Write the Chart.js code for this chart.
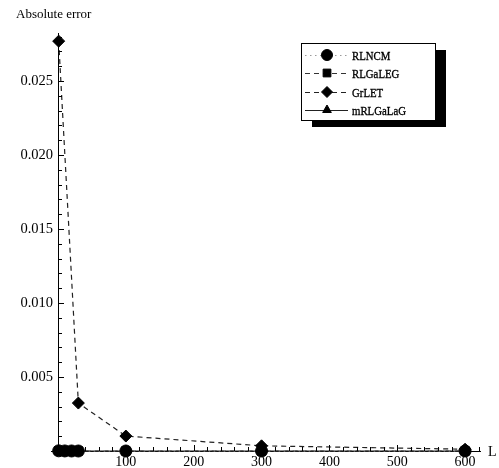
<!DOCTYPE html>
<html>
<head>
<meta charset="utf-8">
<script src="https://cdn.jsdelivr.net/npm/chart.js@4"></script>
<style>
  html, body { margin: 0; padding: 0; background: #fff; }
</style>
</head>
<body>
<canvas id="c" width="499" height="468"></canvas>
<script>
// Truncation parameter L and absolute error of each method
const L        = [1, 10, 20, 30, 100, 300, 600];
const rlncm    = [0.000012, 0.000004, 0.0000015, 0.0000009, 0.0000002, 0.00000005, 0.00000001];
const rlgaleg  = [0.000015, 0.000005, 0.000002, 0.0000012, 0.0000003, 0.00000008, 0.00000002];
const mrlgalag = [0.000010, 0.000003, 0.0000012, 0.0000008, 0.0000002, 0.00000006, 0.00000001];
const L_GrLET  = [1, 30, 100, 300, 600];
const grlet    = [0.0277, 0.00324, 0.00101, 0.00035, 0.00012];

const xTicks = [100, 200, 300, 400, 500, 600];
const yTicks = [0.005, 0.010, 0.015, 0.020, 0.025];

const SERIF = '"Liberation Serif", "DejaVu Serif", serif';

const pts = (xs, ys) => xs.map((x, i) => ({ x: x, y: ys[i] }));

const series = [
  { label: 'RLNCM',    data: pts(L, rlncm),       pointStyle: 'circle',   pointRadius: 6,   borderColor: '#9a9a9a', borderDash: [1.5, 3.5], borderWidth: 1 },
  { label: 'RLGaLEG',  data: pts(L, rlgaleg),     pointStyle: 'rect',     pointRadius: 6,   borderColor: '#333',    borderDash: [5, 4],     borderWidth: 1.2 },
  { label: 'GrLET',    data: pts(L_GrLET, grlet), pointStyle: 'rectRot',  pointRadius: 6,   borderColor: '#222',    borderDash: [5, 4],     borderWidth: 1.2 },
  { label: 'mRLGaLaG', data: pts(L, mrlgalag),    pointStyle: 'triangle', pointRadius: 5.5, borderColor: '#222',    borderDash: [],         borderWidth: 1 }
];

// Inward tick marks, axis labels and the shadowed legend box
const decorations = {
  id: 'decorations',
  afterDatasetsDraw(chart) {
    const ctx = chart.ctx;
    const xs = chart.scales.x, ys = chart.scales.y;
    const x0 = xs.getPixelForValue(0), y0 = ys.getPixelForValue(0);
    ctx.save();
    ctx.strokeStyle = '#000';
    ctx.lineWidth = 1;
    ctx.beginPath();
    // y axis ticks every 0.001, long at every 0.005
    for (let i = 1; i <= 28; i++) {
      const py = Math.round(ys.getPixelForValue(i / 1000)) + 0.5;
      const len = (i % 5 === 0) ? 6 : 4;
      ctx.moveTo(x0, py); ctx.lineTo(x0 + len, py);
    }
    // x axis ticks every 20, long at every 100
    for (let i = 1; i <= 31; i++) {
      const px = Math.round(xs.getPixelForValue(i * 20)) + 0.5;
      const len = (i % 5 === 0) ? 6 : 4;
      ctx.moveTo(px, y0); ctx.lineTo(px, y0 - len);
    }
    // small overshoot of both axes past the origin
    ctx.moveTo(x0 - 7, Math.round(y0) + 0.5); ctx.lineTo(x0, Math.round(y0) + 0.5);
    ctx.moveTo(Math.round(x0) + 0.5, y0); ctx.lineTo(Math.round(x0) + 0.5, y0 + 5);
    ctx.stroke();
    ctx.restore();
  },
  afterDraw(chart) {
    const ctx = chart.ctx;
    ctx.save();
    ctx.fillStyle = '#000';
    ctx.font = '13px ' + SERIF;
    ctx.textBaseline = 'alphabetic';
    ctx.textAlign = 'left';
    ctx.fillText('Absolute error', 16, 18);
    ctx.font = '14px ' + SERIF;
    ctx.fillText('L', 488, 456);

    // legend
    const bx = 301, by = 43, bw = 134, bh = 77;
    ctx.fillStyle = '#000';
    ctx.fillRect(bx + 11, by + 7, bw, bh);
    ctx.fillStyle = '#fff';
    ctx.fillRect(bx, by, bw, bh);
    ctx.strokeStyle = '#000';
    ctx.lineWidth = 1;
    ctx.strokeRect(bx + 0.5, by + 0.5, bw, bh);

    const rows = [55, 73, 92, 110];
    chart.data.datasets.forEach((ds, i) => {
      const ry = rows[i];
      ctx.save();
      ctx.strokeStyle = ds.borderColor;
      ctx.lineWidth = 1;
      ctx.setLineDash(ds.borderDash);
      ctx.beginPath();
      ctx.moveTo(305, ry + 0.5); ctx.lineTo(348, ry + 0.5);
      ctx.stroke();
      ctx.restore();
      ctx.fillStyle = '#000';
      ctx.strokeStyle = '#000';
      Chart.helpers.drawPoint(ctx, { pointStyle: ds.pointStyle, radius: ds.pointRadius - 0.5, borderWidth: 1 }, 327, ry);
      ctx.save();
      ctx.translate(352, ry + 4.5);
      ctx.scale(0.8, 1);
      ctx.font = '13.5px ' + SERIF;
      ctx.fillStyle = '#000';
      ctx.strokeStyle = '#000';
      ctx.lineWidth = 0.35;
      ctx.fillText(ds.label, 0, 0);
      ctx.strokeText(ds.label, 0, 0);
      ctx.restore();
    });
    ctx.restore();
  }
};

new Chart(document.getElementById('c'), {
  type: 'line',
  data: {
    datasets: series.map(s => ({
      label: s.label,
      data: s.data,
      pointStyle: s.pointStyle,
      pointRadius: s.pointRadius,
      pointHoverRadius: s.pointRadius,
      pointBackgroundColor: '#000',
      pointBorderColor: '#000',
      pointBorderWidth: 1,
      borderColor: s.borderColor,
      borderDash: s.borderDash,
      borderWidth: s.borderWidth,
      tension: 0,
      fill: false,
      clip: false
    }))
  },
  options: {
    responsive: false,
    animation: false,
    layout: { padding: { top: 33, right: 19, left: 0, bottom: 0 } },
    plugins: { legend: { display: false }, tooltip: { enabled: false } },
    scales: {
      x: {
        type: 'linear',
        min: 0,
        max: 622,
        grid: { display: false, drawTicks: false },
        border: { display: true, color: '#000', width: 1 },
        afterBuildTicks: s => { s.ticks = xTicks.map(v => ({ value: v })); },
        ticks: {
          color: '#000',
          font: { family: SERIF, size: 14 },
          padding: 3,
          maxRotation: 0,
          autoSkip: false,
          callback: v => String(v)
        },
        afterFit: s => { s.height = 17; }
      },
      y: {
        type: 'linear',
        min: 0,
        max: 0.02825,
        grid: { display: false, drawTicks: false },
        border: { display: true, color: '#000', width: 1 },
        afterBuildTicks: s => { s.ticks = yTicks.map(v => ({ value: v })); },
        ticks: {
          color: '#000',
          font: { family: SERIF, size: 14.5 },
          padding: 5,
          autoSkip: false,
          callback: v => v.toFixed(3)
        },
        afterFit: s => { s.width = 58; }
      }
    }
  },
  plugins: [decorations]
});
</script>
</body>
</html>
